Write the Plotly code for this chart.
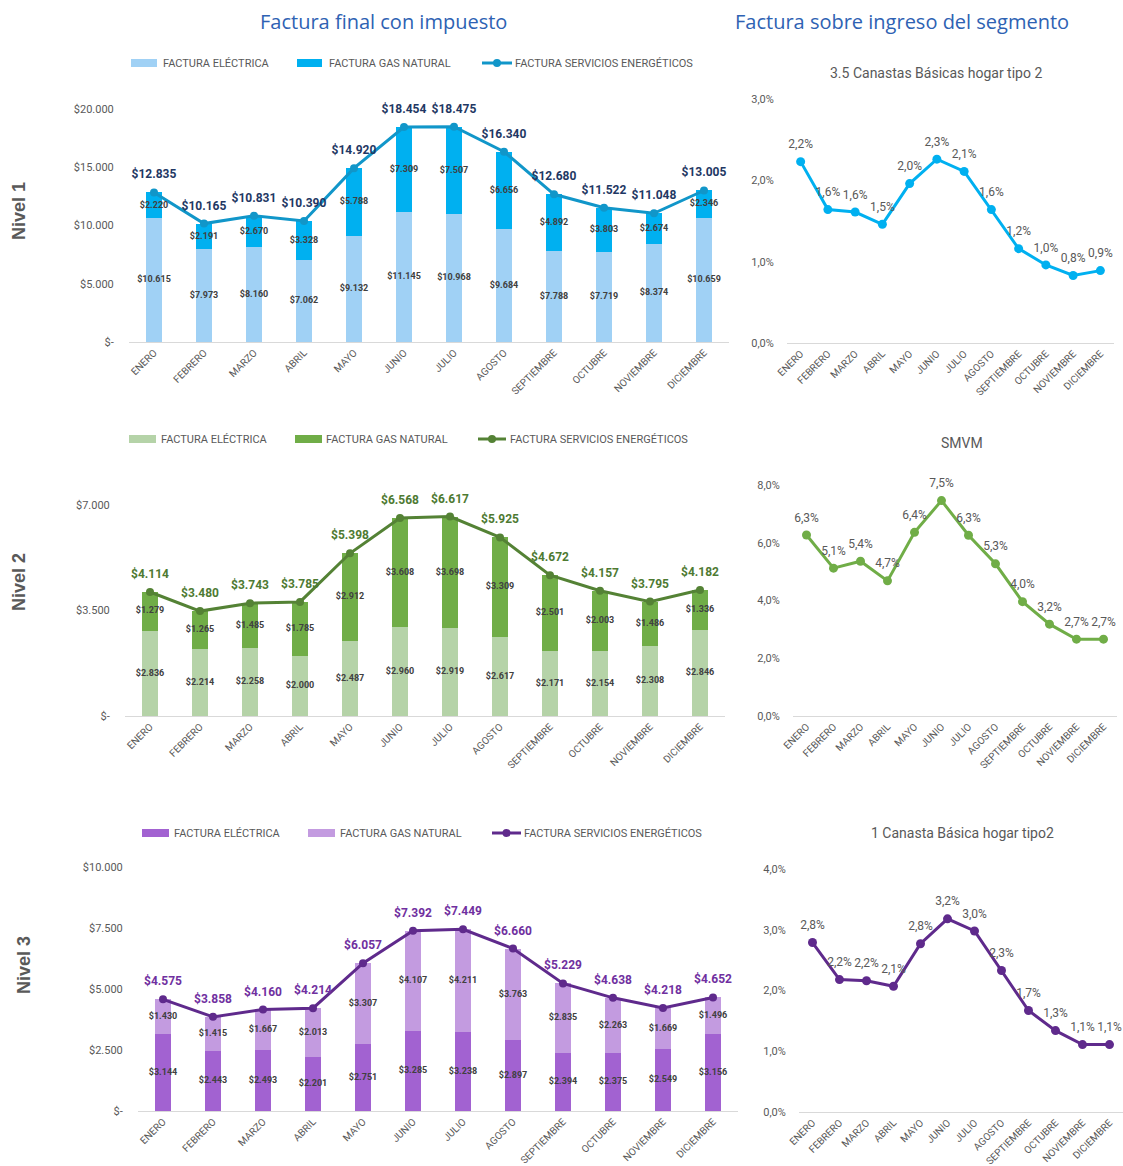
import plotly.graph_objects as go

W, H = 1123, 1166

meses = ["ENERO", "FEBRERO", "MARZO", "ABRIL", "MAYO", "JUNIO", "JULIO",
         "AGOSTO", "SEPTIEMBRE", "OCTUBRE", "NOVIEMBRE", "DICIEMBRE"]

# Nivel 1
n1_electrica = [10615, 7973, 8160, 7062, 9132, 11145, 10968, 9684, 7788, 7719, 8374, 10659]
n1_gas = [2220, 2191, 2670, 3328, 5788, 7309, 7507, 6656, 4892, 3803, 2674, 2346]
n1_total = [12835, 10165, 10831, 10390, 14920, 18454, 18475, 16340, 12680, 11522, 11048, 13005]
# Nivel 2
n2_electrica = [2836, 2214, 2258, 2000, 2487, 2960, 2919, 2617, 2171, 2154, 2308, 2846]
n2_gas = [1279, 1265, 1485, 1785, 2912, 3608, 3698, 3309, 2501, 2003, 1486, 1336]
n2_total = [4114, 3480, 3743, 3785, 5398, 6568, 6617, 5925, 4672, 4157, 3795, 4182]
# Nivel 3
n3_electrica = [3144, 2443, 2493, 2201, 2751, 3285, 3238, 2897, 2394, 2375, 2549, 3156]
n3_gas = [1430, 1415, 1667, 2013, 3307, 4107, 4211, 3763, 2835, 2263, 1669, 1496]
n3_total = [4575, 3858, 4160, 4214, 6057, 7392, 7449, 6660, 5229, 4638, 4218, 4652]

# Factura sobre ingreso (%)
pct_n1 = [2.23, 1.64, 1.61, 1.46, 1.96, 2.26, 2.11, 1.64, 1.16, 0.96, 0.83, 0.89]
pct_n2 = [6.27, 5.12, 5.36, 4.68, 6.36, 7.46, 6.26, 5.27, 3.96, 3.18, 2.66, 2.66]
pct_n3 = [2.79, 2.18, 2.16, 2.07, 2.77, 3.18, 2.98, 2.33, 1.67, 1.34, 1.11, 1.11]

titulos_pct = ["3.5 Canastas Básicas hogar tipo 2", "SMVM", "1 Canasta Básica hogar tipo2"]
nombres = ["FACTURA ELÉCTRICA", "FACTURA GAS NATURAL", "FACTURA SERVICIOS ENERGÉTICOS"]

FONT = "Roboto, Arial, sans-serif"
GRAY = "#595959"
XRANGE = [-0.5, len(meses) - 0.5]


def fx(px):
    return min(max(px / W, 0), 1)


def fy(py):
    return min(max(1 - py / H, 0), 1)


def money(v):
    return "$-" if v == 0 else "$" + f"{v:,}".replace(",", ".")


def pct(v):
    return f"{v:.1f}%".replace(".", ",")


fig = go.Figure()

left = [
    dict(e=n1_electrica, g=n1_gas, t=n1_total, xd=(129, 729), yd=(109, 342), rng=20000, step=5000,
         ce="#a0d1f5", cg="#00b0f0", cl="#1196c9", ct="#1f3864",
         leg=dict(y=63, sw=[(131, 157), (297, 322), (482, 512)], tx=[161, 327, 513])),
    dict(e=n2_electrica, g=n2_gas, t=n2_total, xd=(125, 725), yd=(505, 716), rng=7000, step=3500,
         ce="#b5d3a8", cg="#70ad47", cl="#548235", ct="#4e7a32",
         leg=dict(y=439, sw=[(129, 156), (295, 322), (478, 506)], tx=[159, 324, 508])),
    dict(e=n3_electrica, g=n3_gas, t=n3_total, xd=(138, 738), yd=(867, 1111), rng=10000, step=2500,
         ce="#a262d1", cg="#c39be0", cl="#5f2a8c", ct="#7030a0",
         leg=dict(y=833, sw=[(142, 169), (308, 335), (492, 521)], tx=[172, 338, 522])),
]

right = [
    dict(v=pct_n1, xd=(787, 1114), yd=(99, 343), rng=3, step=1, c="#00b0f0", title=(936, 73)),
    dict(v=pct_n2, xd=(793, 1117), yd=(485, 716), rng=8, step=2, c="#70ad47", title=(962, 443)),
    dict(v=pct_n3, xd=(799, 1123), yd=(869, 1112), rng=4, step=1, c="#5f2a8c", title=(962, 833)),
]

layout_axes = {}
annotations = []
shapes = []

for i, c in enumerate(left):
    k = i + 1
    xa, ya = f"x{k}", f"y{k}"
    fig.add_trace(go.Bar(x=meses, y=c["e"], name=nombres[0], marker=dict(color=c["ce"], line=dict(width=0)),
                         xaxis=xa, yaxis=ya, showlegend=False, hoverinfo="skip"))
    fig.add_trace(go.Bar(x=meses, y=c["g"], name=nombres[1], marker=dict(color=c["cg"], line=dict(width=0)),
                         xaxis=xa, yaxis=ya, showlegend=False, hoverinfo="skip"))
    fig.add_trace(go.Scatter(x=meses, y=c["t"], name=nombres[2], mode="lines+markers",
                             line=dict(color=c["cl"], width=3), marker=dict(size=8, color=c["cl"]),
                             cliponaxis=False, xaxis=xa, yaxis=ya, showlegend=False))
    # total labels (invisible marker sets the gap above the point)
    fig.add_trace(go.Scatter(x=meses, y=c["t"], mode="markers+text",
                             marker=dict(size=16, opacity=0),
                             text=[money(v) for v in c["t"]], textposition="top center",
                             textfont=dict(size=12, color=c["ct"], family=FONT, weight="bold"),
                             cliponaxis=False, xaxis=xa, yaxis=ya, showlegend=False, hoverinfo="skip"))
    # inner segment labels
    mid_e = [v / 2 for v in c["e"]]
    mid_g = [e + g / 2 for e, g in zip(c["e"], c["g"])]
    fig.add_trace(go.Scatter(x=meses, y=mid_e, mode="text", text=[money(v) for v in c["e"]],
                             textfont=dict(size=9, color="#404040", family=FONT, weight="bold"),
                             showlegend=False, xaxis=xa, yaxis=ya, cliponaxis=False, hoverinfo="skip"))
    fig.add_trace(go.Scatter(x=meses, y=mid_g, mode="text", text=[money(v) for v in c["g"]],
                             textfont=dict(size=9, color="#404040", family=FONT, weight="bold"),
                             showlegend=False, xaxis=xa, yaxis=ya, cliponaxis=False, hoverinfo="skip"))
    tv = list(range(0, c["rng"] + 1, c["step"]))
    layout_axes[f"xaxis{k}"] = dict(domain=[fx(c["xd"][0]), fx(c["xd"][1])], anchor=ya,
                                    range=XRANGE, type="category",
                                    showline=True, linecolor="#d9d9d9", linewidth=1,
                                    tickangle=-45, tickfont=dict(size=10, color=GRAY, family=FONT),
                                    showgrid=False, zeroline=False, ticks="", fixedrange=True,
                                    automargin=False)
    layout_axes[f"yaxis{k}"] = dict(domain=[fy(c["yd"][1]), fy(c["yd"][0])], anchor=xa,
                                    range=[0, c["rng"]], tickvals=tv, ticktext=[money(v) for v in tv],
                                    tickfont=dict(size=11, color=GRAY, family=FONT),
                                    showgrid=False, zeroline=False, showline=False,
                                    ticks="outside", ticklen=12, tickcolor="rgba(0,0,0,0)",
                                    automargin=False, fixedrange=True)
    # legend (drawn)
    lg = c["leg"]
    ly = lg["y"]
    for j, col in enumerate([c["ce"], c["cg"]]):
        x0, x1 = lg["sw"][j]
        shapes.append(dict(type="rect", xref="paper", yref="paper", x0=fx(x0), x1=fx(x1),
                           y0=fy(ly + 4), y1=fy(ly - 4), fillcolor=col, line=dict(width=0)))
    x0, x1 = lg["sw"][2]
    shapes.append(dict(type="line", xref="paper", yref="paper", x0=fx(x0), x1=fx(x1),
                       y0=fy(ly), y1=fy(ly), line=dict(color=c["cl"], width=3)))
    xm = (x0 + x1) / 2
    shapes.append(dict(type="circle", xref="paper", yref="paper", x0=fx(xm - 4), x1=fx(xm + 4),
                       y0=fy(ly + 4), y1=fy(ly - 4), fillcolor=c["cl"], line=dict(width=0)))
    for j in range(3):
        annotations.append(dict(text=nombres[j], x=fx(lg["tx"][j]), y=fy(ly), xref="paper", yref="paper",
                                showarrow=False, xanchor="left", yanchor="middle",
                                font=dict(size=11, color=GRAY, family=FONT)))

for i, c in enumerate(right):
    k = i + 4
    xa, ya = f"x{k}", f"y{k}"
    fig.add_trace(go.Scatter(x=meses, y=c["v"], mode="lines+markers",
                             line=dict(color=c["c"], width=3), marker=dict(size=9, color=c["c"]),
                             cliponaxis=False, showlegend=False, xaxis=xa, yaxis=ya))
    fig.add_trace(go.Scatter(x=meses, y=c["v"], mode="markers+text", marker=dict(size=15, opacity=0),
                             text=[pct(v) for v in c["v"]], textposition="top center",
                             textfont=dict(size=12, color=GRAY, family=FONT),
                             cliponaxis=False, showlegend=False, xaxis=xa, yaxis=ya, hoverinfo="skip"))
    tv = list(range(0, c["rng"] + 1, c["step"]))
    layout_axes[f"xaxis{k}"] = dict(domain=[fx(c["xd"][0]), fx(c["xd"][1])], anchor=ya,
                                    range=XRANGE, type="category",
                                    showline=True, linecolor="#d9d9d9", linewidth=1,
                                    tickangle=-45, tickfont=dict(size=10, color=GRAY, family=FONT),
                                    showgrid=False, zeroline=False, ticks="", fixedrange=True,
                                    automargin=False)
    layout_axes[f"yaxis{k}"] = dict(domain=[fy(c["yd"][1]), fy(c["yd"][0])], anchor=xa,
                                    range=[0, c["rng"]], tickvals=tv, ticktext=[pct(v) for v in tv],
                                    tickfont=dict(size=11, color=GRAY, family=FONT),
                                    showgrid=False, zeroline=False, showline=False,
                                    ticks="outside", ticklen=10, tickcolor="rgba(0,0,0,0)",
                                    automargin=False, fixedrange=True)
    annotations.append(dict(text=titulos_pct[i], x=fx(c["title"][0]), y=fy(c["title"][1]),
                            xref="paper", yref="paper", showarrow=False, xanchor="center",
                            yanchor="middle", font=dict(size=14, color=GRAY, family=FONT)))

# Headers
for txt, px in [("Factura final con impuesto", 383), ("Factura sobre ingreso del segmento", 902)]:
    annotations.append(dict(text=txt, x=fx(px), y=fy(21), xref="paper", yref="paper",
                            showarrow=False, xanchor="center", yanchor="middle",
                            font=dict(size=20, color="#2e62b3", family="Open Sans, sans-serif")))

# Nivel labels
for txt, px, py in [("Nivel 1", 19, 211), ("Nivel 2", 19, 582), ("Nivel 3", 24, 965)]:
    annotations.append(dict(text=f"<b>{txt}</b>", x=fx(px), y=fy(py), xref="paper", yref="paper",
                            showarrow=False, textangle=-90, xanchor="center", yanchor="middle",
                            font=dict(size=18, color=GRAY, family="Liberation Sans, Arial, sans-serif")))

fig.update_layout(
    template="none",
    width=W, height=H, margin=dict(l=0, r=0, t=0, b=0, autoexpand=False),
    paper_bgcolor="white", plot_bgcolor="white",
    barmode="stack", bargap=0.68, showlegend=False,
    annotations=annotations, shapes=shapes,
    **layout_axes,
)

fig.write_html("out.html")
